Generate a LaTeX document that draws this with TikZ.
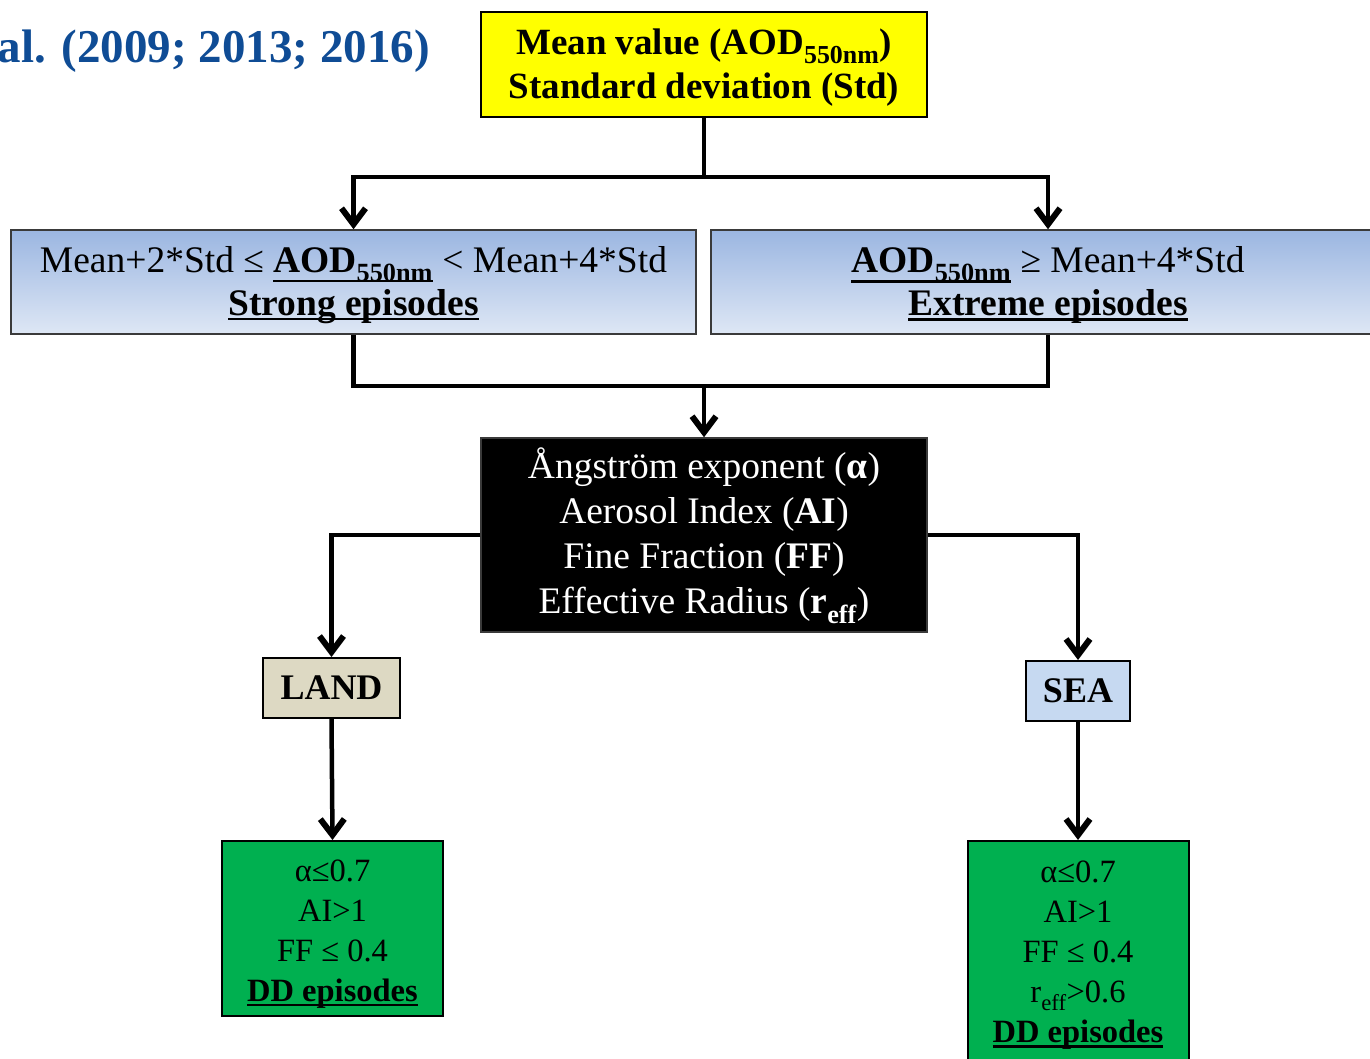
\documentclass[tikz,border=0pt]{standalone}
\usepackage{fontspec}
\setmainfont{Liberation Serif}
\usepackage{xcolor}
\definecolor{cTitle}{HTML}{0F4C95}
\definecolor{cYellow}{HTML}{FFFF00}
\definecolor{cBlueTop}{HTML}{9BB6E1}
\definecolor{cBlueBot}{HTML}{DEE7F5}
\definecolor{cLand}{HTML}{DDD9C3}
\definecolor{cSea}{HTML}{C6D9F1}
\definecolor{cGreen}{HTML}{00B050}
\definecolor{cEdge}{HTML}{3A3A3A}
\usepackage{tikz}
\usetikzlibrary{positioning,arrows.meta}
% thick underline, depth below the baseline as optional argument
\newcommand{\undl}[2][5pt]{\setbox0\hbox{#2}\rlap{\rule[-#1]{\wd0}{2.5pt}}\box0\relax}
\tikzset{
  node-box/.style={draw=cEdge,line width=1.5pt,align=center,inner sep=0pt,
    font=\fontsize{37.5}{43}\selectfont},
  node-mean/.style={fill=cYellow,draw=black,line width=2pt,
    minimum width=446pt,minimum height=105pt,font=\fontsize{37}{44}\selectfont\bfseries},
  node-class/.style={top color=cBlueTop,bottom color=cBlueBot,
    minimum height=104pt},
  node-param/.style={fill=black,text=white,draw=cEdge,
    minimum width=446pt,minimum height=194pt,font=\fontsize{37.5}{45}\selectfont},
  node-surf/.style={draw=black,line width=2pt,minimum height=60pt,
    font=\fontsize{36}{43}\selectfont\bfseries},
  node-dd/.style={fill=cGreen,draw=black,line width=2pt,minimum width=221pt,
    font=\fontsize{32.5}{40}\selectfont},
  link/.style={line width=4.5pt},
  arrow/.style={-{Straight Barb[length=16pt,width=24pt,line width=6pt]},line width=4.5pt},
}

\begin{document}
\begin{tikzpicture}[x=1pt,y=-1pt]
  \useasboundingbox (0,0) rectangle (1370,1058);
  \node[anchor=base east,inner sep=0pt,text=cTitle,
    font=\fontsize{47}{50}\selectfont\bfseries] (title) at (430,62) {al. (2009; 2013; 2016)};

  \node[node-box,node-mean] (mean) at (704,64.5)
    {\rule{0pt}{32pt}Mean value (AOD\textsubscript{550nm})\\Standard deviation (Std)};
  \node[node-box,node-class,minimum width=685pt] (strong) at (353.5,282)
    {\rule{0pt}{32pt}Mean+2*Std ≤ \undl[10pt]{\textbf{AOD\textsubscript{550nm}}} < Mean+4*Std\\
     \undl{\textbf{Strong episodes}}};
  \node[node-box,node-class,minimum width=674pt] (extreme) at (1048,282)
    {\rule{0pt}{32pt}\undl[10pt]{\textbf{AOD\textsubscript{550nm}}} ≥ Mean+4*Std\\
     \undl{\textbf{Extreme episodes}}};
  \node[node-box,node-param] (param) at (704,535)
    {\rule{0pt}{32pt}Ångström exponent (\textbf{α})\\Aerosol Index (\textbf{AI})\\
     Fine Fraction (\textbf{FF})\\Effective Radius (\textbf{r\textsubscript{eff}})};
  \node[node-box,node-surf,fill=cLand,minimum width=137pt] (land) at (331.5,688) {LAND};
  \node[node-box,node-surf,fill=cSea,minimum width=104pt] (sea) at (1078,691) {SEA};
  \node[node-box,node-dd,minimum height=175pt] (ddland) at (332.5,928.5)
    {\rule{0pt}{32pt}α≤0.7\\AI>1\\FF ≤ 0.4\\\undl{\textbf{DD episodes}}};
  \node[node-box,node-dd,minimum height=220pt] (ddsea) at (1078,951)
    {\rule{0pt}{30pt}α≤0.7\\AI>1\\FF ≤ 0.4\\r\textsubscript{eff}>0.6\\\undl{\textbf{DD episodes}}};

  \coordinate (split) at (704,177);
  \coordinate (join) at (704,386);
  \draw[link] (mean.south) -- (split);
  \draw[arrow] (split) -| (strong.north);
  \draw[arrow] (split) -| (extreme.north);
  \draw[link] (strong.south) |- (join) -| (extreme.south);
  \draw[arrow] (join) -- (param.north);
  \draw[arrow] (param.west) -| (land.north);
  \draw[arrow] (param.east) -| (sea.north);
  \draw[arrow] (land.south) -- (ddland.north);
  \draw[arrow] (sea.south) -- (ddsea.north);
\end{tikzpicture}
\end{document}
